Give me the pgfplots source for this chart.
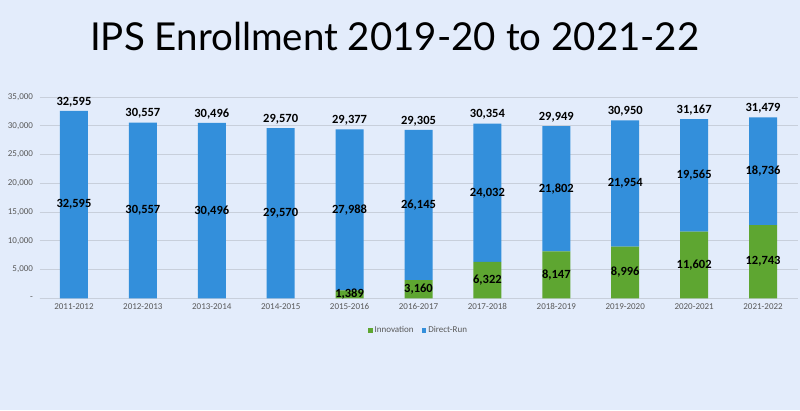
\documentclass[border=0pt]{standalone}
\usepackage{fontspec}
\setmainfont{Carlito}
\newfontfamily\titlefont{Lato}
\usepackage{pgfplots}
\usepackage{pgfplotstable}
\pgfplotsset{compat=1.18}
\definecolor{bg}{HTML}{E3ECFB}
\definecolor{drblue}{HTML}{338FDB}
\definecolor{inngreen}{HTML}{5EA631}
\definecolor{gridc}{HTML}{C8CFDB}
\definecolor{ticktext}{HTML}{595959}
\pgfplotstableread{
x inn dr tot
0 0 32595 32595
1 0 30557 30557
2 0 30496 30496
3 0 29570 29570
4 1389 27988 29377
5 3160 26145 29305
6 6322 24032 30354
7 8147 21802 29949
8 8996 21954 30950
9 11602 19565 31167
10 12743 18736 31479
}\data
\pgfplotsset{
  geom/.style={at={(39.5pt,111.7pt)}, anchor=south west,
    width=758pt, height=201.3pt, scale only axis,
    xmin=-0.5, xmax=10.5, ymin=0, ymax=35000, clip=false},
  lab/.style={draw=none, mark=none, nodes near coords,
    nodes near coords align={center},
    nodes near coords={\pgfmathprintnumber[assume math mode=true, 1000 sep={,}]{\pgfplotspointmeta}},
    every node near coord/.style={font=\fontsize{12.5}{13}\selectfont\bfseries, text=black, inner sep=1pt}},
}
\begin{document}
\begin{tikzpicture}[x=1pt,y=1pt]
\fill[bg] (0,0) rectangle (800,410);
\useasboundingbox (0,0) rectangle (800,410);
\node[anchor=base west, inner sep=0pt] at (90,359) {\resizebox{609pt}{!}{\titlefont IPS Enrollment 2019-20 to 2021-22}};
\begin{axis}[geom,
  ybar stacked, bar width=28pt,
  xtick=data,
  xticklabels={2011-2012,2012-2013,2013-2014,2014-2015,2015-2016,2016-2017,2017-2018,2018-2019,2019-2020,2020-2021,2021-2022},
  ytick={0,5000,10000,15000,20000,25000,30000,35000},
  yticklabels={{-\hspace{5pt}},{5,000},{10,000},{15,000},{20,000},{25,000},{30,000},{35,000}},
  scaled y ticks=false,
  ticklabel style={font=\fontsize{9}{10}\selectfont, text=ticktext},
  xticklabel style={yshift=-2pt},
  yticklabel style={xshift=-3pt},
  major tick length=0pt,
  axis lines*=left,
  y axis line style={draw=none},
  x axis line style={draw=gridc, line width=0.9pt},
  ymajorgrids, grid style={gridc, line width=0.9pt},
  legend style={at={(0.5,-0.16)}, anchor=center, draw=none, fill=none,
    legend columns=2, font=\fontsize{9}{10}\selectfont\color{ticktext},
    /tikz/every even column/.append style={column sep=6pt}},
  legend image code/.code={\fill[#1] (0pt,-2.3pt) rectangle (4.6pt,2.3pt);},
]
\addplot[fill=inngreen, draw=none] table[x=x, y=inn] {\data};
\addlegendentry{Innovation}
\addplot[fill=drblue, draw=none] table[x=x, y=dr] {\data};
\addlegendentry{Direct-Run}
\end{axis}
\begin{axis}[geom, hide axis]
\addplot[lab, point meta=\thisrow{inn}, restrict expr to domain={\thisrow{inn}}{1:100000}]
  table[x=x, y expr=\thisrow{inn}/2] {\data};
\addplot[lab, point meta=\thisrow{dr}]
  table[x=x, y expr=\thisrow{inn}+\thisrow{dr}/2] {\data};
\addplot[lab, point meta=\thisrow{tot}, every node near coord/.append style={yshift=9pt}]
  table[x=x, y=tot] {\data};
\end{axis}
\end{tikzpicture}
\end{document}
